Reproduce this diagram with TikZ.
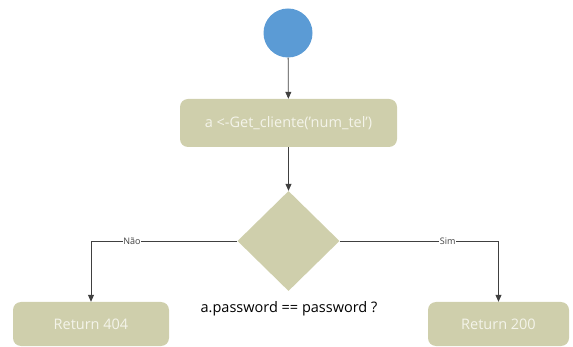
\documentclass[tikz,border=0pt]{standalone}
\usepackage{fontspec}
\setmainfont{Open Sans}
\usetikzlibrary{arrows.meta,shapes.geometric}
\definecolor{tan}{HTML}{CFCFAC}
\definecolor{startblue}{HTML}{5B9BD5}
\definecolor{linegray}{HTML}{404040}
\definecolor{boxtext}{HTML}{F4F4EA}
\begin{document}
\begin{tikzpicture}[x=1pt,y=-1pt,
  action/.style={draw=none,fill=tan,rounded corners=8pt,text=boxtext,font=\fontsize{14.5}{16}\selectfont,inner sep=0pt},
  decision/.style={diamond,draw=none,fill=tan,minimum width=102pt,minimum height=100pt,inner sep=0pt},
  flow/.style={draw=linegray,line width=0.8pt,-{Triangle[length=7pt,width=6pt]}},
  branch/.style={font=\fontsize{9}{10}\selectfont,fill=white,inner sep=0.6pt,text=linegray}]
\useasboundingbox (0,0) rectangle (573,347);
% start node
\node[circle,fill=startblue,minimum size=49pt,inner sep=0pt] (start) at (288,33) {};
% steps
\node[action,minimum width=217pt,minimum height=48pt] (get) at (288.5,123) {a <-Get\_cliente('num\_tel')};
\node[decision] (dec) at (288.5,241) {};
\node[font=\fontsize{14.5}{16}\selectfont,text=black] (cond) at (289,309) {a.password == password ?};
\node[action,minimum width=156pt,minimum height=44pt] (r404) at (91,324) {Return 404};
\node[action,minimum width=141pt,minimum height=44pt] (r200) at (498.5,324) {Return 200};
% connectors
\draw[flow] (start) -- (get);
\draw[flow] (get) -- (dec);
\draw[flow] (dec.west) -| node[branch,pos=0.36] {Não} (r404.north);
\draw[flow] (dec.east) -| node[branch,pos=0.34] {Sim} (r200.north);
\end{tikzpicture}
\end{document}
